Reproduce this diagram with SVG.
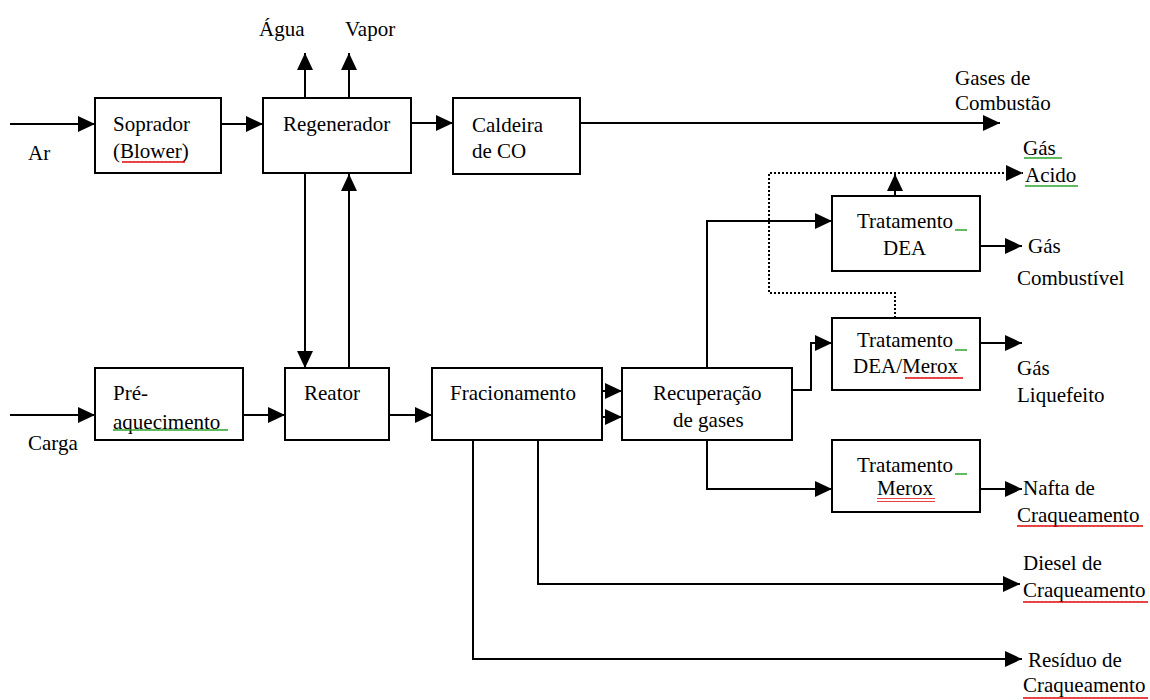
<svg xmlns="http://www.w3.org/2000/svg" width="1150" height="700" viewBox="0 0 1150 700">
<style>
.box{fill:#fff;stroke:#000;stroke-width:2}
.c{fill:none;stroke:#000;stroke-width:2}
.cd{fill:none;stroke:#000;stroke-width:2;stroke-dasharray:2 2}
.a{marker-end:url(#ah)}
text{font-family:"Liberation Serif","Times New Roman",serif;font-size:21px;fill:#000}
.rw{fill:url(#redw)}
.gw{fill:url(#grnw)}
</style>
<defs>
<marker id="ah" markerUnits="userSpaceOnUse" markerWidth="18" markerHeight="18" refX="17" refY="8" orient="auto">
<path d="M0,0 L17,8 L0,16 Z" fill="#000"/>
</marker>
<pattern id="redw" patternUnits="userSpaceOnUse" width="4" height="4">
<path d="M0,3 L1,1 L2,3 L3,1 L4,3" fill="none" stroke="#e00000" stroke-width="0.9"/>
</pattern>
<pattern id="grnw" patternUnits="userSpaceOnUse" width="4" height="4">
<path d="M0,3 L1,1 L2,3 L3,1 L4,3" fill="none" stroke="#22a022" stroke-width="0.9"/>
</pattern>
</defs>
<rect width="1150" height="700" fill="#fff"/>

<g id="connectors">
<path class="c a" d="M10,124 H95"/>
<path class="c a" d="M221,124 H263"/>
<path class="c a" d="M411,123 H453"/>
<path class="c a" d="M580,123 H1000"/>
<path class="c a" d="M305,98 V53"/>
<path class="c a" d="M349,98 V53"/>
<path class="c a" d="M305,173 V368"/>
<path class="c a" d="M349,368 V174"/>
<path class="c a" d="M10,415 H95"/>
<path class="c a" d="M243,415 H285"/>
<path class="c a" d="M389,415 H432"/>
<path class="c a" d="M602,391 H622"/>
<path class="c a" d="M602,417 H622"/>
<path class="c a" d="M707,368 V221 H832"/>
<path class="c a" d="M792,390 H811 V343 H832"/>
<path class="c a" d="M707,440 V489 H832"/>
<path class="c a" d="M980,246 H1022"/>
<path class="c a" d="M980,343 H1022"/>
<path class="c a" d="M980,489 H1022"/>
<path class="c a" d="M538,440 V584 H1020"/>
<path class="c a" d="M473,440 V659 H1022"/>
<path class="cd a" d="M895,318 V293 H769 V173 H1023"/>
<path class="c a" d="M895,196 V174"/>
</g>

<g id="soprador">
<rect class="box" x="95" y="98" width="126" height="75"/>
<text x="113" y="131">Soprador</text>
<text x="113" y="158">(Blower)</text>
<rect class="rw" x="122" y="159" width="63" height="4"/>
</g>
<g id="regenerador">
<rect class="box" x="263" y="98" width="148" height="75"/>
<text x="283" y="131">Regenerador</text>
</g>
<g id="caldeira">
<rect class="box" x="453" y="98" width="127" height="76"/>
<text x="472" y="132">Caldeira</text>
<text x="472" y="158">de CO</text>
</g>
<g id="preaquecimento">
<rect class="box" x="95" y="368" width="148" height="72"/>
<text x="113" y="400">Pré-</text>
<text x="113" y="429">aquecimento</text>
<rect class="gw" x="113" y="429" width="115" height="4"/>
</g>
<g id="reator">
<rect class="box" x="285" y="368" width="104" height="72"/>
<text x="304" y="400">Reator</text>
</g>
<g id="fracionamento">
<rect class="box" x="432" y="368" width="170" height="72"/>
<text x="450" y="400">Fracionamento</text>
</g>
<g id="recuperacao">
<rect class="box" x="622" y="368" width="170" height="72"/>
<text x="653" y="400">Recuperação</text>
<text x="673" y="427">de gases</text>
</g>
<g id="tratamento-dea">
<rect class="box" x="832" y="196" width="148" height="75"/>
<text x="857" y="228">Tratamento</text>
<text x="883" y="255">DEA</text>
<rect class="gw" x="955" y="229" width="12" height="4"/>
</g>
<g id="tratamento-dea-merox">
<rect class="box" x="832" y="318" width="148" height="72"/>
<text x="857" y="347">Tratamento</text>
<text x="853" y="373">DEA/Merox</text>
<rect class="gw" x="955" y="348" width="12" height="4"/>
<rect class="rw" x="905" y="377" width="58" height="4"/>
</g>
<g id="tratamento-merox">
<rect class="box" x="832" y="440" width="148" height="72"/>
<text x="857" y="472">Tratamento</text>
<text x="877" y="495">Merox</text>
<rect class="gw" x="955" y="471" width="12" height="4"/>
<rect class="rw" x="877" y="498" width="58" height="4"/>
</g>

<g id="labels">
<text x="259" y="36">Água</text>
<text x="345" y="36">Vapor</text>
<text x="28" y="160">Ar</text>
<text x="28" y="450">Carga</text>
<text x="955" y="85">Gases de</text>
<text x="955" y="110">Combustão</text>
<text x="1023" y="155">Gás</text>
<text x="1025" y="182">Acido</text>
<rect class="gw" x="1024" y="157" width="38" height="4"/>
<rect class="gw" x="1025" y="184" width="53" height="4"/>
<text x="1028" y="253">Gás</text>
<text x="1017" y="285">Combustível</text>
<text x="1017" y="375">Gás</text>
<text x="1017" y="402">Liquefeito</text>
<text x="1023" y="495">Nafta de</text>
<text x="1017" y="522">Craqueamento</text>
<rect class="rw" x="1017" y="524" width="126" height="4"/>
<text x="1023" y="570">Diesel de</text>
<text x="1023" y="597">Craqueamento</text>
<rect class="rw" x="1023" y="599" width="125" height="4"/>
<text x="1028" y="667">Resíduo de</text>
<text x="1023" y="692">Craqueamento</text>
<rect class="rw" x="1023" y="695" width="125" height="4"/>
</g>
</svg>
